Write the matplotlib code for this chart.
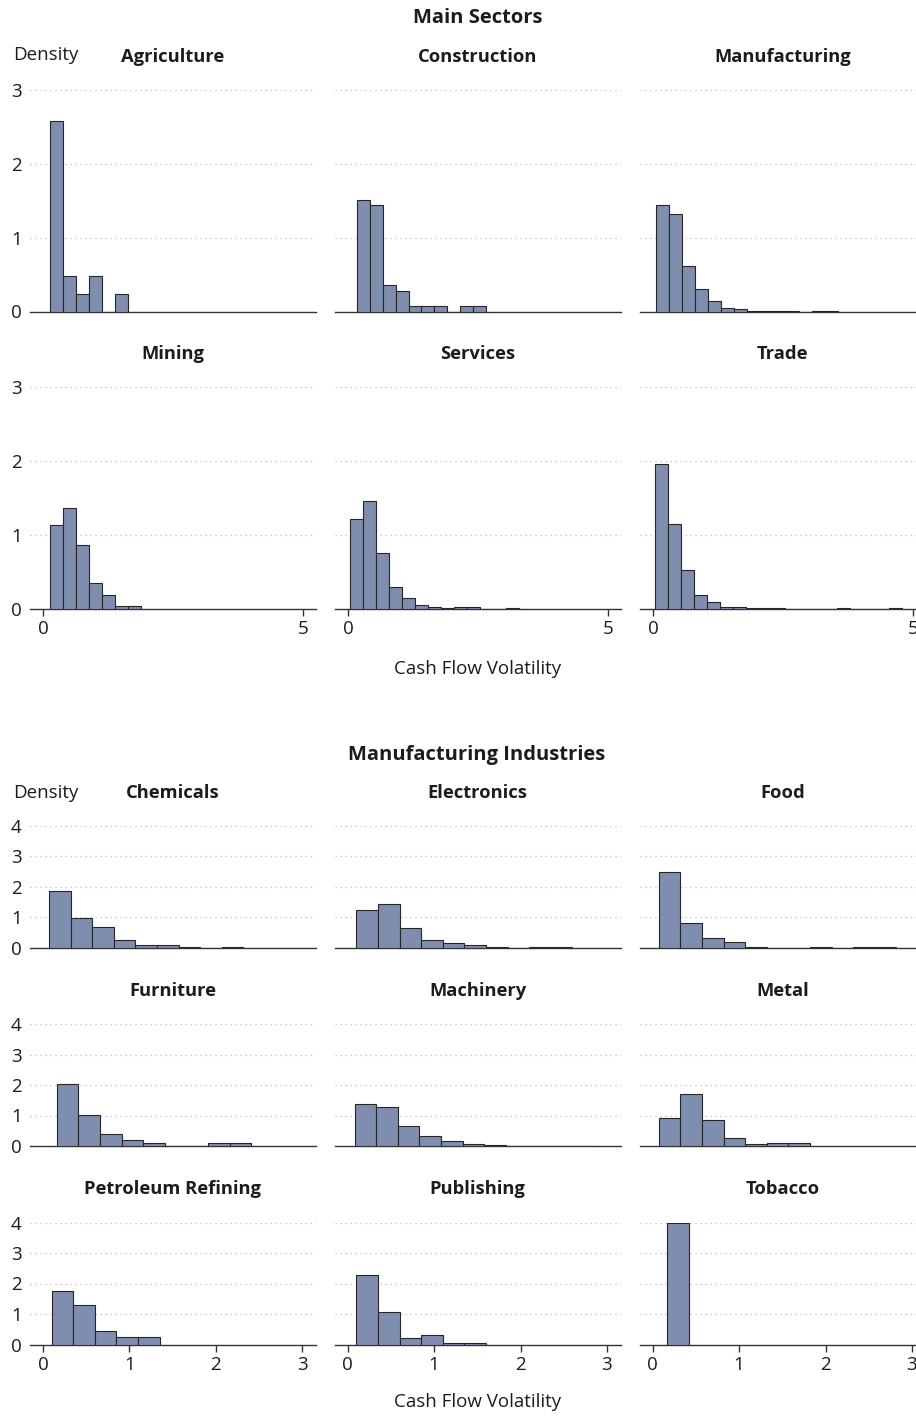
import matplotlib
matplotlib.use('Agg')
import matplotlib.pyplot as plt

# Datos (densidades por intervalo, ancho 0.25)
sectors = ['Agriculture', 'Construction', 'Manufacturing', 'Mining', 'Services', 'Trade']
agriculture = [2.585, 0.477, 0.239, 0.477, 0, 0.239]
construction = [1.51, 1.44, 0.356, 0.284, 0.068, 0.068, 0.068, 0, 0.068, 0.068]
manufacturing = [1.437, 1.324, 0.613, 0.306, 0.14, 0.054, 0.032, 0.008, 0.004, 0.004, 0.004, 0, 0.004, 0.004]
mining = [1.13, 1.36, 0.87, 0.35, 0.185, 0.04, 0.04]
services = [1.21, 1.457, 0.756, 0.29, 0.14, 0.054, 0.03, 0.012, 0.018, 0.018, 0, 0, 0.01]
trade = [1.96, 1.154, 0.525, 0.181, 0.095, 0.023, 0.023, 0.01, 0.005, 0.005, 0, 0, 0, 0, 0.005, 0, 0, 0, 0.005]
sector_starts = [0.13, 0.16, 0.05, 0.13, 0.04, 0.04]

industries = ['Chemicals', 'Electronics', 'Food', 'Furniture', 'Machinery', 'Metal',
              'Petroleum Refining', 'Publishing', 'Tobacco']
chemicals = [1.85, 0.986, 0.668, 0.263, 0.077, 0.099, 0.033, 0, 0.01]
electronics = [1.25, 1.42, 0.646, 0.252, 0.164, 0.099, 0.033, 0, 0.01, 0.01]
food = [2.49, 0.82, 0.33, 0.186, 0.033, 0, 0, 0.033, 0, 0.033, 0.033]
furniture = [2.04, 1.02, 0.40, 0.197, 0.098, 0, 0, 0.098, 0.098]
machinery = [1.37, 1.29, 0.645, 0.317, 0.153, 0.077, 0.02, 0, 0.015, 0.015, 0.015]
metal = [0.907, 1.705, 0.84, 0.262, 0.05, 0.11, 0.11]
petroleum = [1.75, 1.3, 0.45, 0.23, 0.23]
publishing = [2.27, 1.07, 0.2, 0.32, 0.05, 0.05]
tobacco = [4.0]
industry_starts = [0.07, 0.10, 0.07, 0.16, 0.08, 0.07, 0.10, 0.10, 0.17]

bin_width = 0.25

plt.rcParams['font.family'] = ['Open Sans', 'DejaVu Sans']
W, H = 916, 1416
fig = plt.figure(figsize=(W / 100, H / 100), dpi=100)

bar_color = '#7f8eae'
edge_color = '#262626'
text_color = '#1e1b1c'


def px(x, y):
    return x / W, 1 - y / H


def panel(left, top, height, values, start, ylim, yticks, xlim, xticks, title,
          show_y, show_x):
    ax = fig.add_axes([left / W, 1 - (top + height) / H, 286 / W, height / H])
    edges = [start + i * bin_width for i in range(len(values))]
    ax.bar(edges, values, width=bin_width, align='edge', color=bar_color,
           edgecolor=edge_color, linewidth=0.8, zorder=3)
    ax.set_xlim(*xlim)
    ax.set_ylim(*ylim)
    for y in yticks[1:]:
        ax.axhline(y, color='#bcbcbc', linestyle=(0, (1, 3)), linewidth=0.9, zorder=1)
    for s in ['left', 'right', 'top']:
        ax.spines[s].set_visible(False)
    ax.spines['bottom'].set_color('#333333')
    ax.spines['bottom'].set_linewidth(1.0)
    ax.set_yticks(yticks)
    ax.tick_params(axis='y', length=0, pad=6, labelsize=13.5, colors=text_color)
    if not show_y:
        ax.set_yticklabels([])
    if show_x:
        ax.set_xticks(xticks)
        ax.tick_params(axis='x', length=5, width=1, color='#333333', pad=3,
                       labelsize=13.5, labelcolor=text_color)
    else:
        ax.set_xticks([])
    fx, fy = px(left + 143, top - 33)
    fig.text(fx, fy, title, ha='center', va='center', fontsize=13.2,
             fontweight='bold', color=text_color)
    return ax


col_left = [30, 334.8, 639.8]

# Sección superior: sectores principales
sector_data = [agriculture, construction, manufacturing, mining, services, trade]
row_tops = [90, 387.3]
for i, name in enumerate(sectors):
    r, c = divmod(i, 3)
    panel(col_left[c], row_tops[r], 221.5, sector_data[i], sector_starts[i],
          (0, 3), [0, 1, 2, 3], (-0.26, 5.25), [0, 5], name,
          show_y=(c == 0), show_x=(r == 1))

# Sección inferior: industrias manufactureras
industry_data = [chemicals, electronics, food, furniture, machinery, metal,
                 petroleum, publishing, tobacco]
row_tops2 = [825.7, 1024, 1222.5]
for i, name in enumerate(industries):
    r, c = divmod(i, 3)
    panel(col_left[c], row_tops2[r], 122, industry_data[i], industry_starts[i],
          (0, 4), [0, 1, 2, 3, 4], (-0.15, 3.16), [0, 1, 2, 3], name,
          show_y=(c == 0), show_x=(r == 2))

# Títulos y etiquetas
fig.text(*px(478, 18), 'Main Sectors', ha='center', va='center', fontsize=14.5,
         fontweight='bold', color=text_color)
fig.text(*px(477, 755), 'Manufacturing Industries', ha='center', va='center',
         fontsize=14.5, fontweight='bold', color=text_color)
fig.text(*px(46, 55), 'Density', ha='center', va='center', fontsize=13.5, color=text_color)
fig.text(*px(46, 793), 'Density', ha='center', va='center', fontsize=13.5, color=text_color)
fig.text(*px(478, 669), 'Cash Flow Volatility', ha='center', va='center',
         fontsize=13.5, color=text_color)
fig.text(*px(478, 1402), 'Cash Flow Volatility', ha='center', va='center',
         fontsize=13.5, color=text_color)

fig.savefig('out.png', dpi=100, facecolor='white')
